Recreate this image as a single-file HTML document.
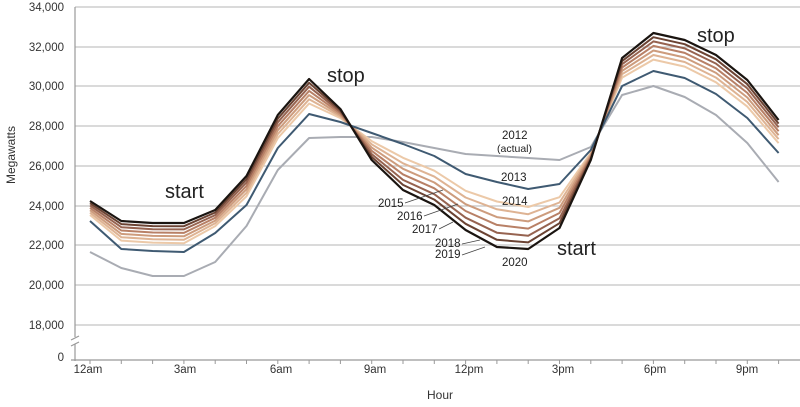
<!DOCTYPE html>
<html><head><meta charset="utf-8"><style>
html,body{margin:0;padding:0;background:#fff;}
svg{display:block;font-family:"Liberation Sans",sans-serif;}
</style></head><body>
<svg id="c" width="800" height="407" viewBox="0 0 800 407" xmlns="http://www.w3.org/2000/svg">
<g stroke="#c4c4c4" stroke-width="1.2">
<line x1="75" y1="7" x2="800" y2="7"/><line x1="75" y1="47" x2="800" y2="47"/>
<line x1="75" y1="86" x2="800" y2="86"/><line x1="75" y1="126" x2="800" y2="126"/>
<line x1="75" y1="166" x2="800" y2="166"/><line x1="75" y1="206" x2="800" y2="206"/>
<line x1="75" y1="245" x2="800" y2="245"/><line x1="75" y1="285" x2="800" y2="285"/>
<line x1="75" y1="325" x2="800" y2="325"/>
</g>
<g stroke="#999" stroke-width="1.2">
<line x1="75" y1="7" x2="75" y2="337"/><line x1="75" y1="344" x2="75" y2="361"/>
<line x1="71" y1="360" x2="800" y2="360"/>
<line x1="71" y1="340" x2="79" y2="336"/><line x1="71" y1="346" x2="79" y2="342"/>
</g>
<g id="ticks" stroke="#999" stroke-width="1"></g>
<g font-size="11.5" fill="#333" text-anchor="end">
<text x="64" y="11">34,000</text><text x="64" y="51">32,000</text><text x="64" y="90">30,000</text>
<text x="64" y="130">28,000</text><text x="64" y="170">26,000</text><text x="64" y="210">24,000</text>
<text x="64" y="249">22,000</text><text x="64" y="289">20,000</text><text x="64" y="329">18,000</text>
<text x="64" y="361">0</text>
</g>
<g font-size="11.5" fill="#333" text-anchor="middle">
<text x="88" y="373">12am</text><text x="185" y="373">3am</text><text x="281" y="373">6am</text>
<text x="375" y="373">9am</text><text x="469" y="373">12pm</text><text x="563" y="373">3pm</text>
<text x="655" y="373">6pm</text><text x="747" y="373">9pm</text>
</g>
<text x="440" y="399" font-size="12" fill="#333" text-anchor="middle">Hour</text>
<text transform="translate(15,155) rotate(-90)" font-size="12" fill="#333" text-anchor="middle">Megawatts</text>
<g id="lines" fill="none" stroke-linejoin="round"></g>
<g font-size="20" fill="#222">
<text x="165" y="198">start</text><text x="327" y="82">stop</text>
<text x="697" y="42">stop</text><text x="557" y="255">start</text>
</g>
<g font-size="11.5" fill="#222">
<text x="502" y="139">2012</text><text x="497" y="152" font-size="10.5">(actual)</text>
<text x="501" y="181">2013</text><text x="502" y="205">2014</text>
<text x="378" y="207">2015</text><text x="397" y="220">2016</text><text x="412" y="233">2017</text>
<text x="435" y="247">2018</text><text x="435" y="258">2019</text><text x="502" y="266">2020</text>
</g>
<g stroke="#444" stroke-width="0.8">
<line x1="405" y1="203" x2="443" y2="190"/><line x1="424" y1="216" x2="458" y2="204"/>
<line x1="439" y1="229" x2="453" y2="222"/><line x1="462" y1="244" x2="480" y2="240"/>
<line x1="462" y1="255" x2="485" y2="247"/>
</g>
</svg>
<script>
var ns="http://www.w3.org/2000/svg";
var t=document.getElementById("ticks");
for(var i=0;i<=23;i++){var x=90+i*31.3;var l=document.createElementNS(ns,"line");l.setAttribute("x1",x);l.setAttribute("x2",x);l.setAttribute("y1",360);l.setAttribute("y2",364);t.appendChild(l);}
var a12=[252,268,276,276,262,226,170,138,137,137,142,148,154,156,158,160,147,95,86,97,115,143,182];
var a13=[221,249,251,252,233,205,148,114,122,133,144,156,174,182,189,184,150,86,71,78,94,118,153];
var a20=[201,221,223,223,210,176,115,79,109,160,190,205,230,247,249,228,160,58,33,40,55,80,120];
var g=document.getElementById("lines");
function pl(arr,col,w){var p=document.createElementNS(ns,"polyline");p.setAttribute("points",arr.map(function(y,i){return (90+i*31.3).toFixed(1)+","+y.toFixed(1);}).join(" "));p.setAttribute("stroke",col);p.setAttribute("stroke-width",w);g.appendChild(p);}
pl(a12,"#a9acb3",2);
var ts=[0.3,0.42,0.54,0.66,0.78,0.89];
var cols=["#ecc9a8","#deb393","#cd9c7d","#b88066","#966350","#6b4333"];
for(var k=0;k<6;k++){pl(a13.map(function(v,i){return v+(a20[i]-v)*ts[k];}),cols[k],2);}
pl(a13,"#3f5a72",2);
pl(a20,"#1a1410",2.2);
</script>
</body></html>
